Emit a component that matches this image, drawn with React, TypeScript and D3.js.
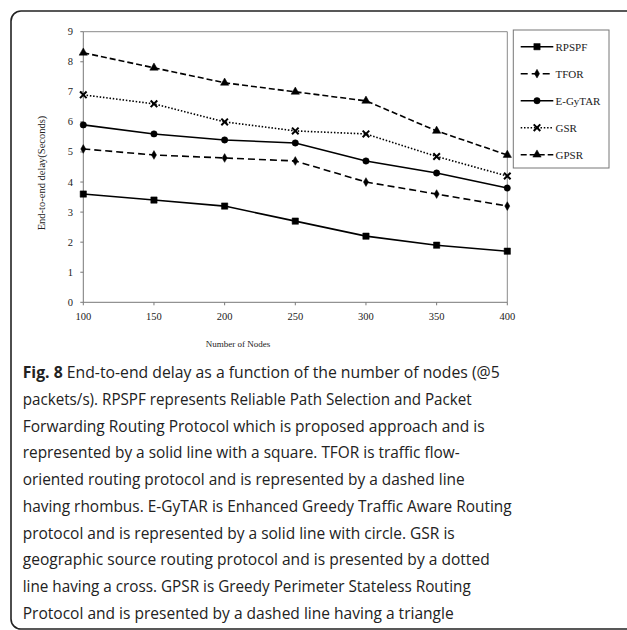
import React from "react";
import * as d3 from "d3";

const nodes = [100, 150, 200, 250, 300, 350, 400];
const rpspf = [3.6, 3.4, 3.2, 2.7, 2.2, 1.9, 1.7];
const tfor = [5.1, 4.9, 4.8, 4.7, 4.0, 3.6, 3.2];
const egytar = [5.9, 5.6, 5.4, 5.3, 4.7, 4.3, 3.8];
const gsr = [6.9, 6.6, 6.0, 5.7, 5.6, 4.85, 4.2];
const gpsr = [8.3, 7.8, 7.3, 7.0, 6.7, 5.7, 4.9];
const yTicks = [0, 1, 2, 3, 4, 5, 6, 7, 8, 9];
const seriesNames = ["RPSPF", "TFOR", "E-GyTAR", "GSR", "GPSR"];

const captionLines = [
  "End-to-end delay as a function of the number of nodes (@5",
  "packets/s). RPSPF represents Reliable Path Selection and Packet",
  "Forwarding Routing Protocol which is proposed approach and is",
  "represented by a solid line with a square. TFOR is traffic flow-",
  "oriented routing protocol and is represented by a dashed line",
  "having rhombus. E-GyTAR is Enhanced Greedy Traffic Aware Routing",
  "protocol and is represented by a solid line with circle. GSR is",
  "geographic source routing protocol and is presented by a dotted",
  "line having a cross. GPSR is Greedy Perimeter Stateless Routing",
  "Protocol and is presented by a dashed line having a triangle",
];
const captionWidths = [477, 449, 462, 437, 442, 489, 432, 467, 448, 431];

type Style = { dash: string; symbol: any; size: number; strokeMarker?: boolean };
const styles: Style[] = [
  { dash: "none", symbol: d3.symbolSquare, size: 40 },
  { dash: "7,4", symbol: d3.symbolDiamond, size: 22 },
  { dash: "none", symbol: d3.symbolCircle, size: 32 },
  { dash: "1.5,1.8", symbol: d3.symbolX, size: 30, strokeMarker: true },
  { dash: "6,3", symbol: d3.symbolTriangle, size: 30 },
];

export default function App() {
  const W = 627, H = 630;
  const x = d3.scaleLinear().domain([100, 400]).range([83.3, 507.3]);
  const y = d3.scaleLinear().domain([0, 9]).range([302.3, 31.7]);
  const all = [rpspf, tfor, egytar, gsr, gpsr];
  const line = d3
    .line<number>()
    .x((_, i) => x(nodes[i]))
    .y((d) => y(d));
  const serif = "'Liberation Serif', 'Times New Roman', serif";
  const legendY = (i: number) => 46.7 + i * 27;

  const marker = (s: Style, cx: number, cy: number, key: string) => {
    const p = d3.symbol().type(s.symbol).size(s.size)() as string;
    return (
      <path
        key={key}
        d={p}
        transform={`translate(${cx},${cy})`}
        fill={s.strokeMarker ? "none" : "#000"}
        stroke="#000"
        strokeWidth={s.strokeMarker ? 2 : 0.5}
      />
    );
  };

  return (
    <svg
      width={W}
      height={H}
      style={{ position: "absolute", left: 0, top: 0, background: "#fff" }}
    >
      <rect x={11} y={11} width={640} height={618} rx={10} fill="none" stroke="#222" strokeWidth={1.6} />

      {/* plot frame */}
      <line x1={x(100)} x2={x(400)} y1={y(9)} y2={y(9)} stroke="#8a8a8a" strokeWidth={1} />
      <line x1={x(400)} x2={x(400)} y1={y(9)} y2={y(0)} stroke="#8a8a8a" strokeWidth={1} />
      <line x1={x(100)} x2={x(100)} y1={y(9)} y2={y(0)} stroke="#777" strokeWidth={1} />
      <line x1={x(100)} x2={x(400)} y1={y(0)} y2={y(0)} stroke="#777" strokeWidth={1} />

      {yTicks.map((t) => (
        <g key={"y" + t}>
          <line x1={x(100) - 3} x2={x(100)} y1={y(t)} y2={y(t)} stroke="#777" />
          <text x={73} y={y(t) + 3.5} textAnchor="end" fontFamily={serif} fontSize={10.5} fill="#222">
            {t}
          </text>
        </g>
      ))}
      {nodes.map((n) => (
        <g key={"x" + n}>
          <line x1={x(n)} x2={x(n)} y1={y(0)} y2={y(0) + 3} stroke="#777" />
          <text x={x(n)} y={319.5} textAnchor="middle" fontFamily={serif} fontSize={10.5} fill="#222">
            {n}
          </text>
        </g>
      ))}

      <text x={238} y={347} textAnchor="middle" fontFamily={serif} fontSize={9} fill="#222">
        Number of Nodes
      </text>
      <text
        transform={`translate(45,173) rotate(-90)`}
        textAnchor="middle"
        fontFamily={serif}
        fontSize={10.5}
        fill="#222"
      >
        End-to-end delay(Seconds)
      </text>

      {all.map((vals, si) => (
        <g key={"s" + si}>
          <path
            d={line(vals) as string}
            fill="none"
            stroke="#000"
            strokeWidth={1.6}
            strokeDasharray={styles[si].dash}
          />
          {vals.map((v, i) => marker(styles[si], x(nodes[i]), y(v), `m${si}-${i}`))}
        </g>
      ))}

      {/* legend */}
      <rect x={513.3} y={30} width={95.7} height={138} fill="#fff" stroke="#777" strokeWidth={1} />
      {seriesNames.map((name, i) => (
        <g key={"l" + i}>
          <line
            x1={520.7}
            x2={553.3}
            y1={legendY(i)}
            y2={legendY(i)}
            stroke="#000"
            strokeWidth={1.6}
            strokeDasharray={styles[i].dash}
          />
          {marker(styles[i], 537, legendY(i), "lm" + i)}
          <text x={555.5} y={legendY(i) + 3.8} fontFamily={serif} fontSize={11} fill="#222">
            {name}
          </text>
        </g>
      ))}

      {/* caption */}
      {captionLines.map((ln, i) => (
        <text
          key={"c" + i}
          x={22.7}
          y={378.3 + i * 26.7}
          fontFamily="'Open Sans', 'Noto Sans', sans-serif"
          fontSize={16.5}
          fill="#222"
          textLength={captionWidths[i]}
          lengthAdjust="spacingAndGlyphs"
        >
          {i === 0 ? (
            <>
              <tspan fontWeight="bold">Fig. 8</tspan> {ln}
            </>
          ) : (
            ln
          )}
        </text>
      ))}
    </svg>
  );
}
